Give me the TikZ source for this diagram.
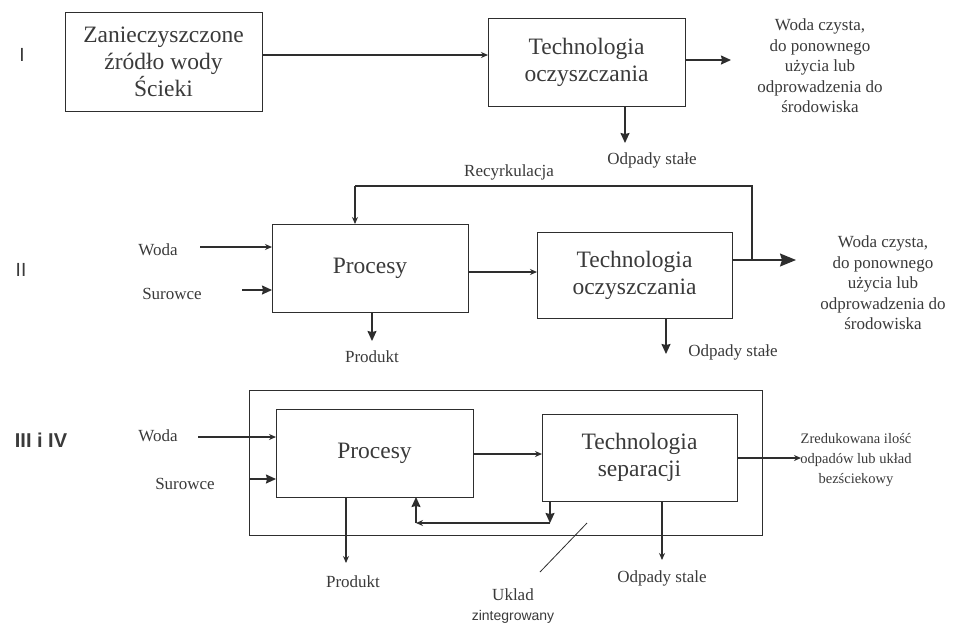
\documentclass[tikz,border=0pt]{standalone}
\usepackage{fontspec}
\setmainfont{Liberation Serif}
\newfontfamily\labsans{Liberation Sans}
\usetikzlibrary{arrows.meta,calc}
\definecolor{ink}{HTML}{2E2E2E}
\definecolor{txt}{HTML}{3A3A3A}
\begin{document}
\begin{tikzpicture}[x=1pt,y=-1pt,
  box/.style={draw=ink,line width=0.8pt,inner sep=0pt,align=center,text=txt,
    font=\fontsize{23.5}{27}\selectfont},
  lab/.style={inner sep=0pt,align=center,text=txt,font=\fontsize{17}{20.5}\selectfont},
  slab/.style={inner sep=0pt,align=center,text=txt,font=\fontsize{14}{20}\selectfont},
  roman/.style={inner sep=0pt,text=txt,font=\labsans\fontsize{19}{20}\selectfont},
  conn/.style={draw=ink,line width=1.3pt},
  arrS/.style={conn,-{Stealth[length=7pt,width=6pt]}},
  arrM/.style={conn,-{Stealth[length=10pt,width=9pt,inset=1pt]}},
  arrL/.style={conn,-{Stealth[length=16pt,width=13pt,inset=2pt]}}]
\useasboundingbox[fill=white] (0,0) rectangle (956,625);

% ---------- Section I ----------
\node[roman] (rI) at (22,55) {I};
\node[box,minimum width=197pt,minimum height=99pt] (A) at (163.5,61.5)
  {Zanieczyszczone\\źródło wody\\Ścieki};
\node[box,minimum width=197pt,minimum height=88pt] (T1) at (586.5,62)
  {Technologia\\oczyszczania};
\coordinate (a1) at (262,55);
\coordinate (t1in) at (488,55);
\draw[arrS] (a1) -- (t1in);
\coordinate (t1o) at (685,60);
\coordinate (t1oe) at (731,60);
\draw[arrM] (t1o) -- (t1oe);
\node[lab] (W1) at (820,66) {Woda czysta,\\do ponownego\\użycia lub\\odprowadzenia do\\środowiska};
\coordinate (t1d) at (625,106);
\coordinate (t1de) at (625,143);
\draw[arrM] (t1d) -- (t1de);
\node[lab] (O1) at (652,160) {Odpady stałe};

% ---------- Section II ----------
\node[roman] (rII) at (21,270) {II};
\node[box,minimum width=196pt,minimum height=88pt] (P2) at (370,268) {Procesy};
\node[box,minimum width=195pt,minimum height=86pt] (T2) at (634.5,275)
  {Technologia\\oczyszczania};
\node[lab] (Wo2) at (158,250) {Woda};
\node[lab] (Su2) at (172,294) {Surowce};
\coordinate (w2s) at (200,247);
\coordinate (w2e) at (272,247);
\draw[arrS] (w2s) -- (w2e);
\coordinate (s2s) at (242,290);
\coordinate (s2e) at (272,290);
\draw[arrM] (s2s) -- (s2e);
\coordinate (p2d) at (372,312);
\coordinate (p2de) at (372,341);
\draw[arrM] (p2d) -- (p2de);
\node[lab] (Pr2) at (372,357) {Produkt};
\coordinate (p2o) at (468,272);
\coordinate (t2in) at (537,272);
\draw[arrS] (p2o) -- (t2in);
\coordinate (t2o) at (732,260);
\coordinate (t2oe) at (796,260);
\draw[arrL] (t2o) -- (t2oe);
\coordinate (rc1) at (752,260);
\coordinate (rc2) at (355,186);
\coordinate (rc3) at (355,224);
\draw[conn] (rc1) |- (rc2);
\draw[arrS] (rc2) -- (rc3);
\node[lab] (Rec) at (509,172) {Recyrkulacja};
\node[lab] (W2) at (883,283) {Woda czysta,\\do ponownego\\użycia lub\\odprowadzenia do\\środowiska};
\coordinate (t2d) at (666,318);
\coordinate (t2de) at (666,354);
\draw[arrM] (t2d) -- (t2de);
\node[lab] (O2) at (733,352) {Odpady stałe};

% ---------- Section III i IV ----------
\node[roman,font=\labsans\bfseries\fontsize{20}{22}\selectfont] (rIII) at (41,440) {III i IV};
\node[draw=ink,line width=0.8pt,minimum width=513pt,minimum height=145pt,inner sep=0pt] (U) at (505.5,462.5) {};
\node[box,minimum width=197pt,minimum height=88pt] (P3) at (374.5,453) {Procesy};
\node[box,minimum width=195pt,minimum height=87pt] (T3) at (639.5,457.5)
  {Technologia\\separacji};
\node[lab] (Wo3) at (158,436) {Woda};
\node[lab] (Su3) at (185,484) {Surowce};
\coordinate (w3s) at (198,437);
\coordinate (w3e) at (276,437);
\draw[arrS] (w3s) -- (w3e);
\coordinate (s3s) at (249,479);
\coordinate (s3e) at (276,479);
\draw[arrM] (s3s) -- (s3e);
\coordinate (p3d) at (346,497);
\coordinate (p3de) at (346,563);
\draw[arrS] (p3d) -- (p3de);
\node[lab] (Pr3) at (353,582) {Produkt};
\coordinate (p3o) at (473,454);
\coordinate (t3in) at (542,454);
\draw[arrS] (p3o) -- (t3in);
\coordinate (t3o) at (737,458);
\coordinate (t3oe) at (801,458);
\draw[arrS] (t3o) -- (t3oe);
\node[slab,font=\fontsize{14.5}{20}\selectfont] (Z3) at (856,460) {Zredukowana ilość\\odpadów lub układ\\bezściekowy};
\coordinate (l1) at (550,501);
\coordinate (l2) at (550,523);
\coordinate (l3) at (416,523);
\coordinate (l4) at (416,497);
\draw[arrM] (l1) -- (l2);
\draw[arrS] (l2) -- (l3);
\draw[arrM] (l3) -- (l4);
\coordinate (t3d) at (662,501);
\coordinate (t3de) at (662,560);
\draw[arrS] (t3d) -- (t3de);
\node[lab] (O3) at (662,578) {Odpady stale};
\coordinate (d1) at (587,523);
\coordinate (d2) at (540,572);
\draw[draw=ink,line width=0.8pt] (d1) -- (d2);
\node[lab] (Uk) at (513,595) {Uklad};
\node[inner sep=0pt,text=txt,font=\labsans\fontsize{14}{16}\selectfont] (Zi) at (513,617) {zintegrowany};
\end{tikzpicture}
\end{document}
